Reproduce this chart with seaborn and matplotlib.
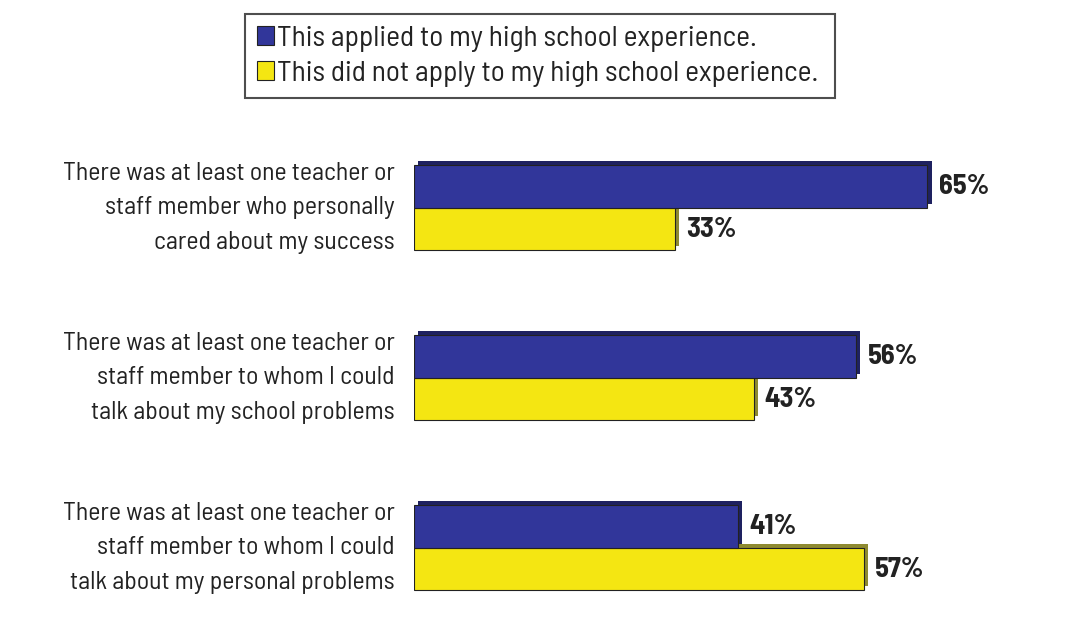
import matplotlib
matplotlib.use("Agg")
import matplotlib.pyplot as plt
import matplotlib.patheffects as pe
from matplotlib.patches import Patch
import seaborn as sns
import pandas as pd

categories = [
    "There was at least one teacher or\nstaff member who personally\ncared about my success",
    "There was at least one teacher or\nstaff member to whom I could\ntalk about my school problems",
    "There was at least one teacher or\nstaff member to whom I could\ntalk about my personal problems",
]
series_names = [
    "This applied to my high school experience.",
    "This did not apply to my high school experience.",
]
applied = [65, 56, 41]
not_applied = [33, 43, 57]
colors = ["#31369A", "#F4E612"]
side_colors = ["#1E2160", "#8E8A30"]

sns.set_theme(style="white")
plt.rcParams["font.family"] = ["Barlow Semi Condensed", "DejaVu Sans"]

df = pd.DataFrame({
    "category": categories * 2,
    "series": [series_names[0]] * 3 + [series_names[1]] * 3,
    "value": applied + not_applied,
})

fig = plt.figure(figsize=(10.82, 6.19), dpi=100)
fig.patch.set_facecolor("white")
ax = fig.add_axes([414 / 1082, 0.0, 0.584, 0.8013])

sns.barplot(data=df, y="category", x="value", hue="series", orient="h",
            palette=colors, saturation=1, width=0.5, edgecolor="#222222",
            linewidth=0.8, ax=ax, legend=False)

for i, cont in enumerate(ax.containers):
    for p in cont.patches:
        p.set_zorder(3 if i == 0 else 2)
        p.set_path_effects([
            pe.SimplePatchShadow(offset=(3, 3), shadow_rgbFace=side_colors[i], alpha=1.0),
            pe.Normal(),
        ])
    labels = [f"{int(v)}%" for v in cont.datavalues]
    ax.bar_label(cont, labels=labels, padding=8, fontsize=20.5, fontweight="bold",
                 color="#222222", zorder=5)

ax.set_xlim(0, 80)
ax.set_ylim(2.418, -0.5)
ax.set_xlabel("")
ax.set_ylabel("")
ax.set_xticks([])
for s in ax.spines.values():
    s.set_visible(False)
ax.tick_params(axis="y", length=0, pad=14)
for t in ax.get_yticklabels():
    t.set_fontsize(18.6)
    t.set_multialignment("right")
    t.set_linespacing(1.62)
    t.set_verticalalignment("center")
    t.set_color("#222222")

handles = [Patch(facecolor=colors[0], edgecolor="#222222", linewidth=0.8),
           Patch(facecolor=colors[1], edgecolor="#222222", linewidth=0.8)]
leg = fig.legend(handles, series_names, loc="upper left",
                 bbox_to_anchor=(245 / 1082, 1 - 96 / 619, 590 / 1082, 82 / 619),
                 mode="expand", borderaxespad=0, fancybox=False, frameon=True,
                 fontsize=21.2, handlelength=0.6, handleheight=0.6, handletextpad=0.1,
                 borderpad=0.4, labelspacing=0.3)
leg.get_frame().set_edgecolor("#222222")
leg.get_frame().set_linewidth(1.5)
for t in leg.get_texts():
    t.set_color("#222222")

fig.savefig("out.png", dpi=100, facecolor="white")
